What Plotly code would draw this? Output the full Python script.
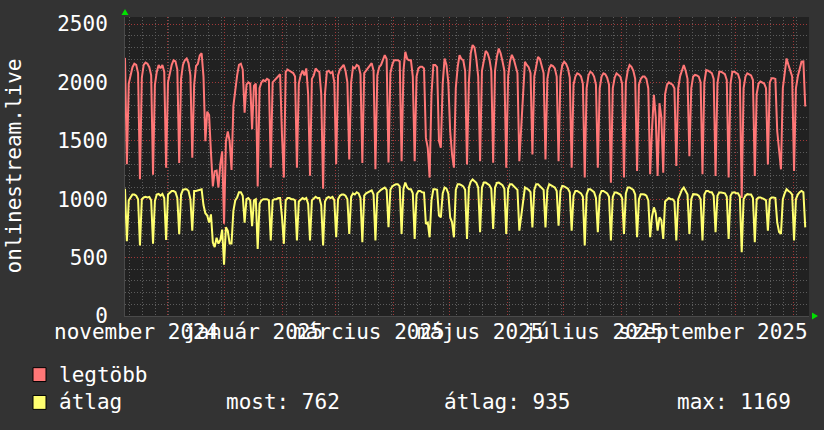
import plotly.graph_objects as go
import pandas as pd

# ---------------- data (daily values, first point Fri 2024-11-08) ----------------
start_date = "2024-11-08 12:00"

legtobb = [2210,
    1300, 1990, 2060, 2130, 2160, 2150, 2080,
    1170, 2040, 2150, 2170, 2160, 2130, 2060,
    1210, 1980, 2090, 2150, 2120, 2150, 2090,
    1270, 2000, 2080, 2150, 2190, 2180, 2110,
    1310, 2030, 2150, 2190, 2205, 2165, 2060,
    1355, 1980, 2140, 2160, 2230, 2250, 2050,
    1497, 1750, 1720, 1400, 1110, 1240, 1245,
    1100, 1300, 1410, 790, 1497, 1580, 1497,
    1250, 1800, 1960, 2060, 2150, 2160, 2110,
    1740, 1980, 2000, 1990, 1600, 1970, 1990,
    1110, 1950, 2000, 2020, 2010, 2030, 2020,
    1270, 2000, 2020, 2040, 2060, 2070, 1550,
    1185, 2090, 2110, 2100, 2090, 2080, 2050,
    1270, 1990, 2060, 2100, 2060, 2120, 1900,
    1200, 2030, 2060, 2120, 2100, 2090, 1900,
    1090, 1900, 2090, 2100, 2080, 2090, 2000,
    1300, 2060, 2110, 2130, 2150, 2100, 2000,
    1340, 2000, 2130, 2120, 2150, 2140, 2070,
    1310, 2080, 2100, 2120, 2150, 2165, 2100,
    1256, 2060, 2130, 2150, 2190, 2234, 2200,
    1315, 2080, 2150, 2190, 2190, 2190, 2180,
    1326, 2100, 2262, 2200, 2190, 2190, 2050,
    1326, 2050, 2120, 2134, 2134, 2120, 1525,
    1440, 1185, 1900, 2150, 2150, 2130, 1500,
    1440, 1990, 2205, 2150, 2000, 1582, 1383,
    1270, 1950, 2130, 2234, 2200, 2190, 2100,
    1298, 2000, 2250, 2320, 2300, 2200, 2050,
    1326, 2100, 2200, 2270, 2250, 2200, 2100,
    1312, 2100, 2220, 2290, 2250, 2180, 2100,
    1270, 2050, 2180, 2236, 2200, 2150, 2080,
    1326, 1600, 1900, 2177, 2150, 2130, 2080,
    1383, 2050, 2150, 2219, 2200, 2150, 2080,
    1340, 2030, 2120, 2149, 2140, 2120, 2050,
    1326, 2050, 2150, 2177, 2160, 2120, 2040,
    1270, 1980, 2050, 2078, 2070, 2050, 1990,
    1185, 1950, 2060, 2092, 2080, 2050, 1980,
    1270, 1950, 2050, 2078, 2070, 2040, 1980,
    1142, 1950, 2040, 2078, 2060, 2050, 1990,
    1185, 2000, 2100, 2149, 2134, 2100, 2030,
    1241, 1980, 2030, 2050, 2050, 2030, 1950,
    1213, 1600, 1893, 1700, 1199, 1822, 1700,
    1227, 1900, 1978, 2000, 1990, 1980, 1950,
    1284, 1950, 2050, 2100, 2149, 2100, 2030,
    1369, 1950, 2050, 2064, 2060, 2050, 2000,
    1213, 2000, 2106, 2100, 2090, 2080, 2030,
    1199, 1990, 2092, 2092, 2080, 2070, 2020,
    1185, 1990, 2092, 2092, 2080, 2070, 2020,
    1010, 1950, 2050, 2078, 2070, 2060, 2020,
    1199, 1900, 1990, 2007, 2000, 1990, 1950,
    1298, 2000, 2035, 2035, 2030, 1582, 1400,
    1256, 1950, 2100, 2205, 2150, 2100, 2050,
    1241, 1950, 2050, 2120, 2177, 2180, 1794]

atlag = [1090,
    640, 990, 1010, 1040, 1040, 1030, 1000,
    605, 1000, 1015, 1020, 1015, 1020, 990,
    620, 985, 1040, 1045, 1030, 1045, 1010,
    650, 1040, 1060, 1070, 1070, 1060, 1010,
    700, 1040, 1080, 1085, 1085, 1070, 1000,
    730, 1070, 1070, 1075, 1085, 1085, 950,
    880, 860, 800, 870, 630, 590, 670,
    620, 650, 740, 440, 760, 730, 620,
    620, 900, 990, 1015, 1060, 1060, 1030,
    800, 1000, 1010, 990, 770, 990, 1000,
    575, 960, 990, 1000, 1000, 1000, 990,
    646, 990, 1000, 1000, 1010, 1010, 850,
    618, 990, 1010, 1010, 1000, 1000, 990,
    646, 980, 1000, 1010, 1000, 1010, 960,
    646, 990, 1010, 1020, 1010, 1010, 950,
    603, 980, 1010, 1020, 1010, 1020, 990,
    674, 1000, 1030, 1040, 1040, 1030, 1000,
    703, 1020, 1050, 1040, 1060, 1050, 1010,
    632, 1030, 1050, 1060, 1070, 1075, 1040,
    646, 1050, 1070, 1080, 1090, 1100, 1080,
    760, 1080, 1110, 1120, 1128, 1128, 1110,
    703, 1090, 1142, 1100, 1085, 1085, 1050,
    660, 1040, 1071, 1071, 1060, 1057, 788,
    800, 674, 990, 1085, 1085, 1080, 860,
    845, 1050, 1100, 1090, 1050, 845, 802,
    674, 1080, 1128, 1128, 1120, 1110, 1080,
    660, 1100, 1150, 1169, 1150, 1140, 1100,
    717, 1100, 1142, 1142, 1130, 1120, 1090,
    745, 1100, 1140, 1142, 1130, 1120, 1090,
    703, 1090, 1128, 1128, 1110, 1100, 1080,
    731, 850, 1000, 1100, 1090, 1080, 1060,
    759, 1080, 1128, 1128, 1110, 1100, 1080,
    759, 1080, 1128, 1120, 1110, 1100, 1070,
    773, 1070, 1114, 1110, 1100, 1090, 1060,
    731, 1030, 1071, 1071, 1060, 1050, 1020,
    603, 1040, 1085, 1085, 1070, 1060, 1010,
    717, 1030, 1071, 1071, 1060, 1050, 1020,
    646, 1020, 1057, 1057, 1050, 1040, 1010,
    703, 1050, 1100, 1100, 1090, 1080, 1040,
    674, 1000, 1043, 1043, 1040, 1030, 990,
    674, 850, 930, 880, 731, 845, 820,
    660, 980, 1000, 1010, 1000, 1000, 980,
    646, 1000, 1050, 1080, 1100, 1070, 1040,
    703, 1000, 1043, 1043, 1040, 1030, 1000,
    646, 1040, 1071, 1071, 1060, 1060, 1030,
    717, 1030, 1057, 1057, 1050, 1050, 1020,
    660, 1030, 1057, 1060, 1050, 1050, 1020,
    547, 1000, 1030, 1043, 1040, 1040, 1010,
    632, 1000, 1015, 1015, 1010, 1000, 990,
    731, 1000, 1015, 1015, 1010, 800, 720,
    703, 1000, 1050, 1085, 1070, 1060, 1040,
    646, 1000, 1040, 1060, 1071, 1060, 759]

y_ticks = [0, 500, 1000, 1500, 2000, 2500]
month_starts = ["2024-12-01", "2025-01-01", "2025-02-01", "2025-03-01", "2025-04-01",
                "2025-05-01", "2025-06-01", "2025-07-01", "2025-08-01", "2025-09-01",
                "2025-10-01", "2025-11-01"]
x_labels = ["november 2024", "január 2025", "március 2025", "május 2025",
            "július 2025", "szeptember 2025"]
x_label_pos = ["2024-11-14 03:00", "2025-01-16 12:00", "2025-03-18 22:00",
               "2025-05-17 10:00", "2025-07-17 07:00", "2025-09-19 02:00"]
series_names = ["legtöbb", "átlag"]
stats = ["most: 762", "átlag: 935", "max: 1169"]
y_title = "onlinestream.live"

# ---------------- styling ----------------
FONT = "DejaVu Sans Mono"
RED = "#ff7777"
YEL = "#ffff70"
BG = "#333333"
PLOT_BG = "#212121"
GRID_MINOR = "#5c5c5c"
GRID_MAJOR = "#a03838"

W, H = 824, 430
ML, MR, MT, MB = 125, 15, 15, 114
PW, PH = W - ML - MR, H - MT - MB


def px(xp):
    return (xp - ML) / PW


def py(yp):
    return (H - MB - yp) / PH


dates = pd.date_range(start_date, periods=len(legtobb), freq="D")

fig = go.Figure()
fig.add_trace(go.Scatter(x=dates, y=legtobb, mode="lines", name=series_names[0],
                         line=dict(color=RED, width=2), hoverinfo="skip"))
fig.add_trace(go.Scatter(x=dates, y=atlag, mode="lines", name=series_names[1],
                         line=dict(color=YEL, width=2), hoverinfo="skip"))

fig.update_layout(
    width=W, height=H,
    margin=dict(l=ML, r=MR, t=MT, b=MB, pad=0),
    paper_bgcolor=BG, plot_bgcolor=PLOT_BG,
    showlegend=False,
    font=dict(family=FONT, color="white", size=21),
    xaxis=dict(
        type="date",
        range=["2024-11-08 12:00", "2025-11-09 12:00"],
        tickmode="array", tickvals=month_starts, showticklabels=False,
        ticks="", showgrid=True, gridcolor=GRID_MAJOR, griddash="1px,2px", gridwidth=1,
        zeroline=False, showline=True, linecolor="#4a4a4a", linewidth=1,
        minor=dict(tickmode="linear", tick0="2024-11-11", dtick=7 * 86400000,
                   showgrid=True, gridcolor=GRID_MINOR, griddash="1px,2px", gridwidth=1,
                   ticks=""),
    ),
    yaxis=dict(
        range=[0, 2560],
        tickmode="array", tickvals=y_ticks, ticktext=[str(v) for v in y_ticks],
        ticks="", ticklabelstandoff=12,
        tickfont=dict(family=FONT, size=21, color="white"),
        showgrid=True, gridcolor=GRID_MAJOR, griddash="1px,2px", gridwidth=1,
        zeroline=False, showline=True, linecolor="#4a4a4a", linewidth=1,
        minor=dict(tickmode="linear", tick0=0, dtick=100, showgrid=True,
                   gridcolor=GRID_MINOR, griddash="1px,2px", gridwidth=1, ticks=""),
    ),
)

annotations = []
# rotated y title
annotations.append(dict(text=y_title, xref="paper", yref="paper", x=px(13), y=0.5,
                        textangle=-90, showarrow=False, xanchor="center", yanchor="middle",
                        font=dict(family=FONT, size=21, color="white")))
# x labels (overlapping, like the original)
for lab, pos in zip(x_labels, x_label_pos):
    annotations.append(dict(text=lab, xref="x", yref="paper", x=pos, y=py(332),
                            showarrow=False, xanchor="center", yanchor="middle",
                            font=dict(family=FONT, size=21, color="white")))
# legend texts
annotations.append(dict(text=series_names[0], xref="paper", yref="paper", x=px(57), y=py(375),
                        showarrow=False, xanchor="left", yanchor="middle",
                        font=dict(family=FONT, size=21, color="white")))
annotations.append(dict(text=series_names[1], xref="paper", yref="paper", x=px(57), y=py(403),
                        showarrow=False, xanchor="left", yanchor="middle",
                        font=dict(family=FONT, size=21, color="white")))
for txt, xp in zip(stats, [224, 442, 675]):
    annotations.append(dict(text=txt, xref="paper", yref="paper", x=px(xp), y=py(403),
                            showarrow=False, xanchor="left", yanchor="middle",
                            font=dict(family=FONT, size=21, color="white")))
fig.update_layout(annotations=annotations)

shapes = []
# legend colour boxes
for col, yc in [(RED, 375), (YEL, 403)]:
    shapes.append(dict(type="rect", xref="paper", yref="paper",
                       x0=px(33), x1=px(46), y0=py(yc + 7), y1=py(yc - 7),
                       fillcolor=col, line=dict(color="#000000", width=1), layer="above"))
# green arrows at axis ends
shapes.append(dict(type="path", xref="paper", yref="paper",
                   path=f"M {px(121.5)} {py(13)} L {px(128.5)} {py(13)} L {px(125)} {py(7)} Z",
                   fillcolor="#00e000", line=dict(color="#00e000", width=0), layer="above"))
shapes.append(dict(type="path", xref="paper", yref="paper",
                   path=f"M {px(812)} {py(312.5)} L {px(812)} {py(319.5)} L {px(818)} {py(316)} Z",
                   fillcolor="#00e000", line=dict(color="#00e000", width=0), layer="above"))
fig.update_layout(shapes=shapes)

page_css = ("document.body.style.margin='0';document.body.style.padding='0';"
            "document.body.style.background='" + BG + "';"
            "document.documentElement.style.background='" + BG + "';")
fig.write_html("out.html", config={"displayModeBar": False}, post_script=page_css)
